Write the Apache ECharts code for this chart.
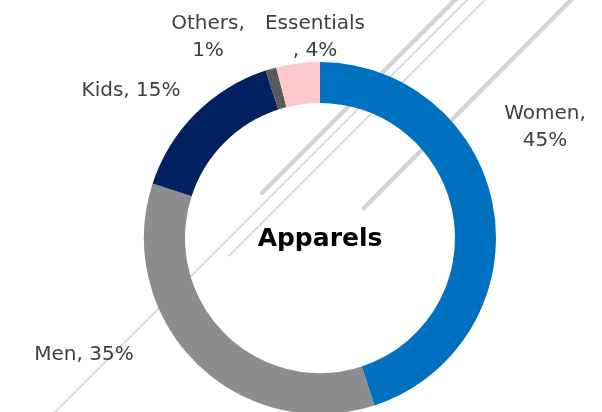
<!DOCTYPE html>
<html>
<head>
<meta charset="utf-8">
<script src="https://cdn.jsdelivr.net/npm/echarts@6/dist/echarts.min.js"></script>
<style>
  html, body { margin: 0; padding: 0; background: #fff; }
  #chart { width: 602px; height: 412px; }
</style>
</head>
<body>
<div id="chart"></div>
<script>
// data
var categories = ['Women', 'Men', 'Kids', 'Others', 'Essentials'];
var shares = [45, 35, 15, 1, 4];
var centerTitle = 'Apparels';

// how each label is broken across lines
var labelSep = [',\n', ', ', ', ', ',\n', '\n, '];
// label centres (layout only)
var labelPos = [[545, 127], [84, 355], [131, 91], [208, 37], [315, 37]];
var colors = ['#0070c0', '#8c8d8f', '#002060', '#5a5a5a', '#fdc9cb'];

var chart = echarts.init(document.getElementById('chart'));

var pieData = [];
for (var i = 0; i < categories.length; i++) {
  pieData.push({ name: categories[i], value: shares[i], itemStyle: { color: colors[i] } });
}

// decorative diagonal strokes behind the donut
function stroke(x1, y1, x2, y2, w) {
  return {
    type: 'line',
    z: 0,
    silent: true,
    shape: { x1: x1, y1: y1, x2: x2, y2: y2 },
    style: { stroke: '#d4d4d4', lineWidth: w, lineCap: 'round' }
  };
}

var option = {
  backgroundColor: '#ffffff',
  animation: false,
  graphic: [
    stroke(262, 193, 475, -20, 4.5),
    stroke(40, 427, 487, -20, 1.5),
    stroke(229, 256, 505, -20, 1.5),
    stroke(364, 208, 591, -20, 4.5),
    {
      type: 'text',
      z: 10,
      x: 320,
      y: 239,
      style: {
        text: centerTitle,
        x: 0, y: 0,
        textAlign: 'center',
        textVerticalAlign: 'middle',
        fontFamily: 'DejaVu Sans',
        fontWeight: 'bold',
        fontSize: 25,
        fill: '#000000'
      }
    }
  ],
  series: [
    {
      type: 'pie',
      z: 5,
      center: [320, 238],
      radius: [135, 176],
      startAngle: 90,
      clockwise: true,
      avoidLabelOverlap: false,
      itemStyle: { borderWidth: 0 },
      label: {
        show: true,
        position: 'outside',
        color: '#404040',
        fontFamily: 'DejaVu Sans',
        fontSize: 20,
        lineHeight: 27,
        formatter: function (p) {
          return p.name + labelSep[p.dataIndex] + Math.round(p.percent) + '%';
        }
      },
      labelLine: { show: false },
      labelLayout: function (params) {
        var pos = labelPos[params.dataIndex];
        return { x: pos[0], y: pos[1], align: 'center', verticalAlign: 'middle' };
      },
      data: pieData
    }
  ]
};

chart.setOption(option);
</script>
</body>
</html>
